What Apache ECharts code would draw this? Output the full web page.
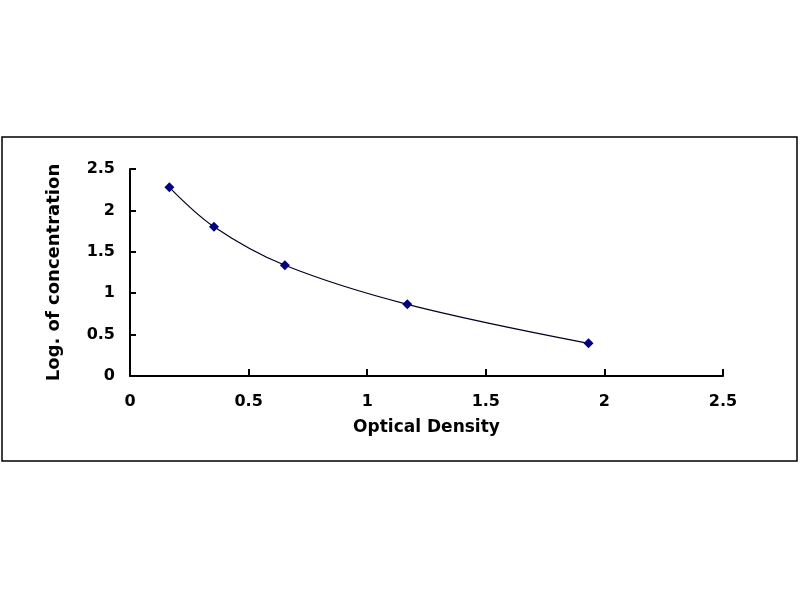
<!DOCTYPE html>
<html>
<head>
<meta charset="utf-8">
<style>
  html, body { margin: 0; padding: 0; background: #fff; }
  #chart { width: 800px; height: 600px; }
</style>
<script src="https://cdn.jsdelivr.net/npm/echarts@6/dist/echarts.min.js"></script>
</head>
<body>
<div id="chart"></div>
<script>
// standard curve readings
let opticalDensity = [0.166, 0.354, 0.653, 1.169, 1.933]
let logConcentration = [2.279, 1.803, 1.337, 0.866, 0.395]
let xTicks = [0, 0.5, 1, 1.5, 2, 2.5]
let yTicks = [0, 0.5, 1, 1.5, 2, 2.5]

let chart = echarts.init(document.getElementById('chart'))

let fontBase = {
  fontFamily: 'DejaVu Sans, Verdana, sans-serif',
  fontWeight: 'bold',
  color: '#000'
}

let option = {
  animation: false,
  backgroundColor: '#fff',
  grid: {
    left: 130,
    right: 77,
    top: 169,
    bottom: 224
  },
  graphic: [
    {
      type: 'rect',
      shape: { x: 2, y: 137, width: 795, height: 324 },
      style: { fill: 'none', stroke: '#000', lineWidth: 1.5 },
      z: -1
    }
  ],
  xAxis: {
    type: 'value',
    min: xTicks[0],
    max: xTicks[xTicks.length - 1],
    interval: 0.5,
    name: 'Optical Density',
    nameLocation: 'middle',
    nameGap: 43,
    nameTextStyle: { ...fontBase, fontSize: 17 },
    axisLine: { lineStyle: { color: '#000', width: 2 } },
    axisTick: { inside: true, length: 7, lineStyle: { color: '#000', width: 2 } },
    axisLabel: { ...fontBase, fontSize: 16, margin: 18 },
    splitLine: { show: false }
  },
  yAxis: {
    type: 'value',
    min: yTicks[0],
    max: yTicks[yTicks.length - 1],
    interval: 0.5,
    name: 'Log. of concentration',
    nameLocation: 'middle',
    nameGap: 67,
    nameTextStyle: { ...fontBase, fontSize: 18 },
    axisLine: { show: true, lineStyle: { color: '#000', width: 2 } },
    axisTick: { show: true, inside: true, length: 6, lineStyle: { color: '#000', width: 2 } },
    axisLabel: { ...fontBase, fontSize: 16, margin: 15 },
    splitLine: { show: false }
  },
  series: [
    {
      type: 'line',
      data: opticalDensity.map((x, i) => [x, logConcentration[i]]),
      smooth: 0.35,
      symbol: 'diamond',
      symbolSize: 10,
      itemStyle: { color: '#000080' },
      lineStyle: { color: '#000022', width: 1.2 }
    }
  ]
}
chart.setOption(option)
</script>
</body>
</html>
